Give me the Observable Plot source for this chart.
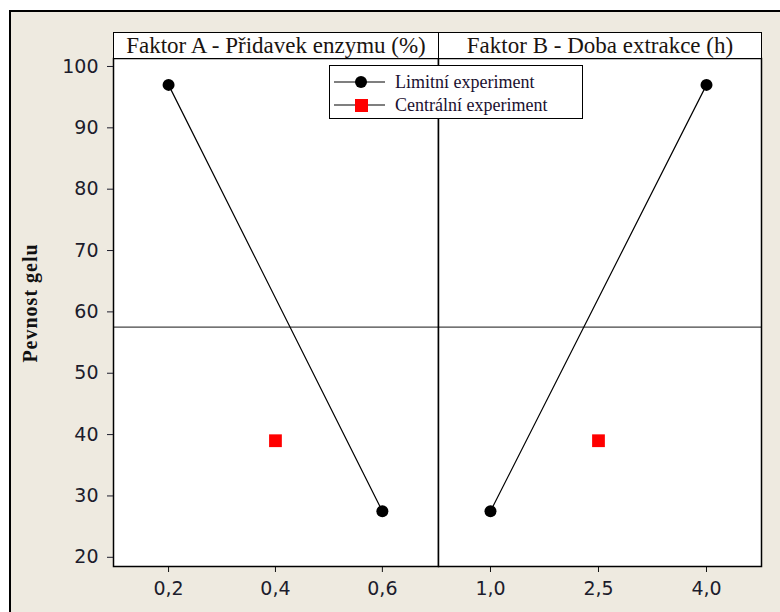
<!DOCTYPE html>
<html><head><meta charset="utf-8">
<script src="https://cdn.jsdelivr.net/npm/d3@7"></script>
<script src="https://cdn.jsdelivr.net/npm/@observablehq/plot@0.6"></script>
<style>
body{margin:0;background:#fff;}
#wrap{position:relative;width:780px;height:612px;overflow:hidden;background:#fff;}
#bg{position:absolute;left:9px;top:10px;width:800px;height:700px;background:#EEEAE0;border-top:2px solid #000;border-left:2px solid #000;}
.panel{position:absolute;top:32px;}
.hdr{position:absolute;top:32px;height:27px;background:#fff;border:1px solid #000;box-sizing:border-box;font-family:"Liberation Serif","Times New Roman",serif;font-size:23px;text-align:center;line-height:25px;color:#1a1410;white-space:nowrap;overflow:hidden;}
#ylab{position:absolute;left:30px;top:303px;transform:translate(-50%,-50%) rotate(-90deg);font-family:"Liberation Serif","Times New Roman",serif;font-weight:bold;font-size:20px;letter-spacing:1px;white-space:nowrap;color:#111;}
#legend{position:absolute;left:329px;top:65px;width:254px;height:54px;background:#fff;border:1px solid #000;box-sizing:border-box;font-family:"Liberation Serif","Times New Roman",serif;font-size:18px;color:#1a1030;}
#legend .row{position:absolute;left:4px;height:22px;display:flex;align-items:center;}
#legend .row span{margin-left:10px;}
</style>
</head><body>
<div id="wrap">
  <div id="bg"></div>
  <div id="left" class="panel" style="left:0px"></div>
  <div id="right" class="panel" style="left:438px"></div>
  <div class="hdr" style="left:113px;width:326px">Faktor A - Přidavek enzymu (%)</div>
  <div class="hdr" style="left:438px;width:324px">Faktor B - Doba extrakce (h)</div>
  <div id="ylab">Pevnost gelu</div>
  <div id="legend"></div>
</div>
<script>
// ---- data ----
const yTicks = [20, 30, 40, 50, 60, 70, 80, 90, 100];
const aLevels = [0.2, 0.6];
const aLimit = [97, 27.5];
const aCenterLevel = [0.4];
const aCenterValue = [39];
const aTicks = [0.2, 0.4, 0.6];
const bLevels = [1.0, 4.0];
const bLimit = [27.5, 97];
const bCenterLevel = [2.5];
const bCenterValue = [39];
const bTicks = [1.0, 2.5, 4.0];
const overallMean = [57.5];
const seriesNames = ["Limitní experiment", "Centrální experiment"];
const seriesColors = ["#000000", "#ff0000"];

const fmt = d => d.toFixed(1).replace(".", ",");
const yDomain = [18.5, 101.3];
const H = 580, MT = 26, MB = 46;
const axisStyle = {background: "transparent", overflow: "visible", fontFamily: "'DejaVu Sans', sans-serif", fontSize: "19px", color: "#1c1c2c"};

function panel(levels, limit, cLevel, cValue, ticks, xDomain, opts) {
  const limitData = levels.map((l, i) => ({x: l, y: limit[i]}));
  const centerData = cLevel.map((l, i) => ({x: l, y: cValue[i]}));
  const marks = [
    Plot.frame({fill: "white", stroke: "none"}),
    Plot.ruleY(overallMean, {stroke: "#444", strokeWidth: 1.3}),
    Plot.line(limitData, {x: "x", y: "y", stroke: seriesColors[0], strokeWidth: 1.2}),
    Plot.dot(limitData, {x: "x", y: "y", r: 6, fill: seriesColors[0], stroke: "none", symbol: "circle"}),
    Plot.dot(centerData, {x: "x", y: "y", r: 7.2, fill: seriesColors[1], stroke: "none", symbol: "square"}),
    Plot.axisX({ticks: ticks, tickFormat: fmt, tickSize: 6, tickPadding: 9, label: null, stroke: "#111", color: "#1c1c2c"}),
    Plot.frame({stroke: "#000", strokeWidth: 1.5})
  ];
  if (opts.yAxis) marks.push(Plot.axisY({ticks: yTicks, tickSize: 6, tickPadding: 9, label: null, color: "#1c1c2c"}));
  return Plot.plot({
    width: opts.width, height: H,
    marginLeft: opts.ml, marginRight: opts.mr, marginTop: MT, marginBottom: MB,
    style: axisStyle,
    x: {domain: xDomain, axis: null},
    y: {domain: yDomain, axis: null},
    marks
  });
}

document.getElementById("left").append(panel(aLevels, aLimit, aCenterLevel, aCenterValue, aTicks, [0.097, 0.705], {width: 438, ml: 113, mr: 0, yAxis: true}));
document.getElementById("right").append(panel(bLevels, bLimit, bCenterLevel, bCenterValue, bTicks, [0.278, 4.764], {width: 342, ml: 0, mr: 19, yAxis: false}));

// legend
const lg = document.getElementById("legend");
seriesNames.forEach((name, i) => {
  const row = document.createElement("div");
  row.className = "row";
  row.style.top = (i === 0 ? 5 : 28) + "px";
  const sym = i === 0
    ? `<circle cx="27" cy="11" r="6" fill="${seriesColors[0]}"/>`
    : `<rect x="21" y="5" width="13" height="13" fill="${seriesColors[1]}"/>`;
  row.innerHTML = `<svg width="51" height="22"><line x1="0" x2="51" y1="11" y2="11" stroke="#000" stroke-width="1.2"/>${sym}</svg><span>${name}</span>`;
  lg.append(row);
});
</script>
</body></html>
